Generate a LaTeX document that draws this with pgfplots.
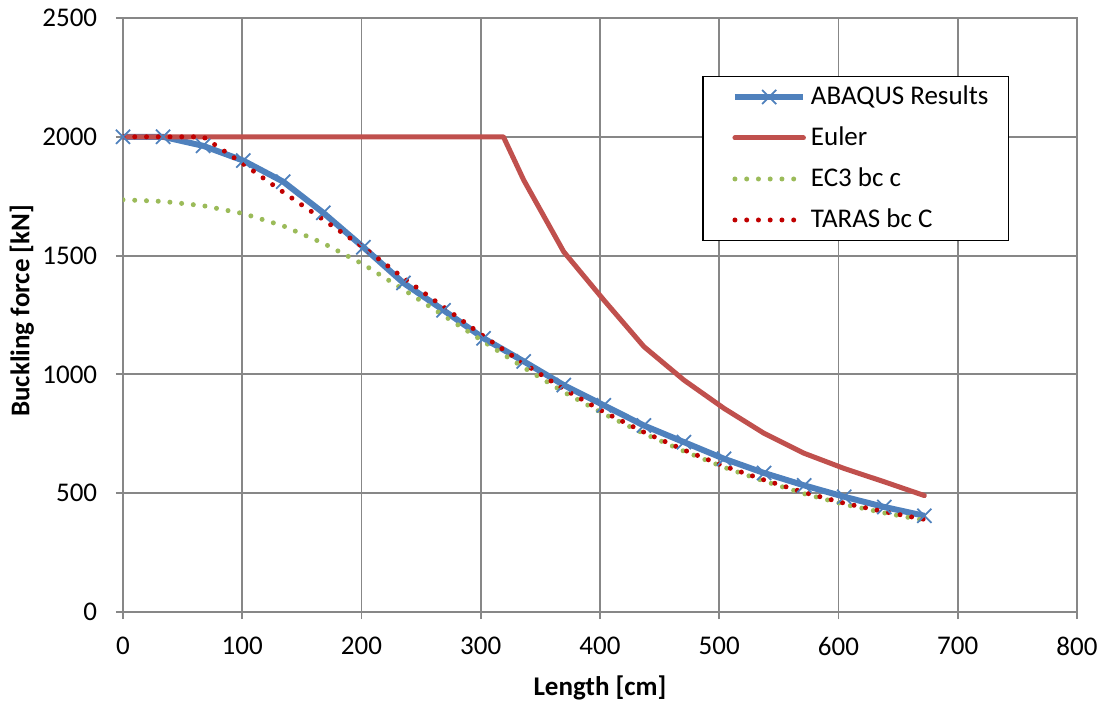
\documentclass[border=0pt]{standalone}
\usepackage{fontspec}
\setmainfont{Carlito}
\usepackage{pgfplots}
\usepackage{pgfplotstable}
\pgfplotsset{compat=1.18}

\definecolor{abaqus}{HTML}{4F81BD}
\definecolor{euler}{HTML}{C0504D}
\definecolor{ecthree}{HTML}{9BBB59}
\definecolor{taras}{HTML}{C00000}
\definecolor{gridgray}{HTML}{878787}

\newcommand{\chartfont}{\fontsize{10.8}{13}\selectfont}

% Buckling force [kN] against member length [cm]
\pgfplotstableread{
L      F
0      2000
33.6   2000
67.2   1962
100.8  1900
134.4  1811
168.0  1680
201.6  1535
235.2  1385
268.8  1270
302.4  1152
336.0  1055
369.6  955
403.2  870
436.8  785
470.4  715
504.0  645
537.6  585
571.2  533
604.8  485
638.4  442
672.0  405
}\abaqus

\pgfplotstableread{
L      F
0      2000
33.6   2000
67.2   2000
100.8  2000
134.4  2000
168.0  2000
201.6  2000
235.2  2000
268.8  2000
302.4  2000
319.0  2000
336.0  1818
369.6  1516
403.2  1313
436.8  1117
470.4  976
504.0  857
537.6  752
571.2  668
604.8  604
638.4  548
672.0  490
}\euler

\pgfplotstableread{
L      F
0      1735
33.6   1728
67.2   1710
100.8  1677
134.4  1625
168.0  1552
201.6  1463
235.2  1357
268.8  1248
302.4  1138
336.0  1029
369.6  926
403.2  834
436.8  751
470.4  677
504.0  609
537.6  551
571.2  498
604.8  453
638.4  417
672.0  386
}\ecthree

\pgfplotstableread{
L      F
0      2000
33.6   2000
67.2   2000
100.8  1886
134.4  1767
168.0  1651
201.6  1535
235.2  1406
268.8  1284
302.4  1161
336.0  1046
369.6  938
403.2  842
436.8  757
470.4  682
504.0  614
537.6  556
571.2  503
604.8  458
638.4  422
672.0  390
}\taras

\begin{document}
\begin{tikzpicture}[font=\chartfont]
\begin{axis}[
  scale only axis,
  width=381.6pt, height=237.6pt,
  xmin=0, xmax=800, ymin=0, ymax=2500,
  xtick={0,100,...,800}, ytick={0,500,...,2500},
  grid=major,
  major grid style={gridgray, line width=0.75pt},
  axis line style={gridgray, line width=0.75pt},
  tick pos=left, tick align=outside,
  major tick length=2.8pt,
  tick style={gridgray, line width=0.75pt},
  /pgf/number format/assume math mode=true,
  /pgf/number format/1000 sep={},
  tick label style={font=\chartfont, text=black},
  xticklabel style={yshift=-3.6pt},
  yticklabel style={xshift=-4pt},
  xlabel={\textbf{Length [cm]}},
  ylabel={\textbf{Buckling force [kN]}},
  label style={font=\chartfont},
  xlabel style={at={(axis description cs:0.5,-0.128)}, anchor=center},
  ylabel style={at={(axis description cs:-0.106,0.507)}, anchor=center},
  legend cell align=left,
  legend style={at={(rel axis cs:0.607,0.903)}, anchor=north west,
    draw=black, line width=0.7pt, inner xsep=8pt, inner ysep=0pt,
    row sep=0pt, font=\chartfont,
    nodes={inner sep=0pt, minimum height=16.4pt},
    /tikz/every odd column/.append style={column sep=0.4pt}},
  legend image code/.code={\path (0pt,0pt) (32.4pt,0pt);
    \draw[mark repeat=2, mark phase=2, #1]
    plot coordinates {(3.6pt,0pt) (17.3pt,0pt) (31pt,0pt)};},
]
\addplot[abaqus, line width=2.4pt, line join=round, mark=x, mark size=4pt,
  mark options={solid, line width=0.7pt}] table[x=L, y=F] {\abaqus};
\addlegendentry{ABAQUS Results}
\addplot[euler, line width=2pt, line join=round, line cap=round] table[x=L, y=F] {\euler};
\addlegendentry{Euler}
\addplot[ecthree, line width=2pt, line cap=round, dash pattern=on 0pt off 4.7pt] table[x=L, y=F] {\ecthree};
\addlegendentry{EC3 bc c}
\addplot[taras, line width=2pt, line cap=round, dash pattern=on 0pt off 4.7pt] table[x=L, y=F] {\taras};
\addlegendentry{TARAS bc C}
\coordinate (SW) at (rel axis cs:0,0);
\coordinate (NE) at (rel axis cs:1,1);
\end{axis}
\pgfresetboundingbox
\path ([shift={(-49.2pt,-36pt)}]SW) rectangle ([shift={(11.2pt,7.2pt)}]NE);
\end{tikzpicture}
\end{document}
